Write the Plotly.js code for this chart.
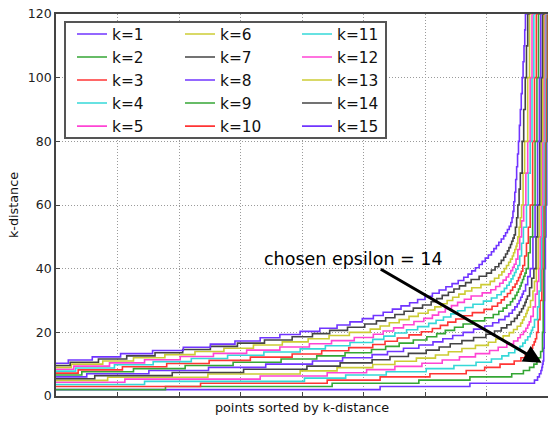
<!DOCTYPE html>
<html><head><meta charset="utf-8">
<script src="https://cdn.plot.ly/plotly-3.0.1.min.js"></script>
<style>html,body{margin:0;padding:0;background:#fff}#chart{width:548px;height:422px}</style>
</head><body><div id="chart"></div>
<script>
// ---- data: sorted k-distance curves (rank, k-distance) ----
const kLabels = ['k=1','k=2','k=3','k=4','k=5','k=6','k=7','k=8','k=9','k=10','k=11','k=12','k=13','k=14','k=15'];
const yTicks = [0, 20, 40, 60, 80, 100, 120];

const x_k1 = [0,527,673,778,783,786,788.5,790,791,792,793,793.8,794.3,794.6,795.8,796.8,798,798.9,799.5,801];
const y_k1 = [2,3,4,5,6,7,8,9,10,11,15,20,30,40,50,60,80,100,120,150];

const x_k2 = [0,178,449,590,673,741,760,770,777,782,785,788,791,792.2,793,794,795,796.6,798,798.7,800.3];
const y_k2 = [2,3,4,5,6,7,8,9,10,11,12,14,20,30,40,50,60,80,100,120,150];

const x_k3 = [0,235,441,527,608,667,697,722,745,756,763,768,772,775,777.5,779.5,781.5,784,787,790,791.7,793,795,796.8,798,799.5];
const y_k3 = [3,4,5,6,7,8,9,10,11,12,13,14,15,16,17,18,20,24,30,40,50,60,80,100,120,150];

const x_k4 = [0,144,404,471,537,602,647,683,708,725,736,746,754.5,759,763,767,771,773,775,778,783,785.5,788,789.7,791,793.4,795,796.3,798];
const y_k4 = [3.6,4.6,5.6,6.6,7.6,8.6,9.6,10.6,11.6,12.6,13.6,14.6,15.6,16.6,17.6,18.6,19.6,20.6,21.6,24,28,33,40,50,60,80,100,120,150];

const x_k5 = [0,112,332,441,505,551,595,628,656,682,705,719,733,744,751,755,760,764,767,769.5,772,776,779.5,782.5,785,787.3,789,791.4,793.4,794.6,796.5];
const y_k5 = [4.3,5.3,6.3,7.3,8.3,9.3,10.3,11.3,12.3,13.3,14.3,15.3,16.3,17.3,18.3,19.3,20.3,21.3,22.3,23.3,25,28,32,36,40,50,60,80,100,120,150];

const x_k6 = [0,84,247,397,457,515,551,586,617,638,660,682,703,715,727,737,744,750,755.5,758.5,761,764,766,768,771.5,775.5,778,781,784,786,789,791.4,793,795];
const y_k6 = [4.9,5.9,6.9,7.9,8.9,9.9,10.9,11.9,12.9,13.9,14.9,15.9,16.9,17.9,18.9,19.9,20.9,21.9,22.9,23.9,24.9,25.9,26.9,27.9,30,33,36,40,50,60,80,100,120,150];

const x_k7 = [0,63,189,305,408,462,514,543,573,602,623,641,660,679,699,713,724,733,740,745.5,750,753.5,757,760,762.5,764.5,766.5,770,773.5,777,780.5,783,786.5,789,791,793];
const y_k7 = [5.4,6.4,7.4,8.4,9.4,10.4,11.4,12.4,13.4,14.4,15.4,16.4,17.4,18.4,19.4,20.4,21.4,22.4,23.4,24.4,25.4,26.4,27.4,28.4,29.4,30.4,31.4,34,37,40,50,60,80,100,120,150];

const x_k8 = [0,50,151,248,341,417,466,514,539,565,590,613,629,645,662,679,697,710,720,730,736.5,742,746,750,753,755.5,758,760,763.5,767,771,775.5,779,783,786,788,790];
const y_k8 = [6,7,8,9,10,11,12,13,14,15,16,17,18,19,20,21,22,23,24,25,26,27,28,29,30,31,32,33,35,37.5,40,50,60,80,100,120,150];

const x_k9 = [0,42,126,210,288,366,424,470,513,536,558,581,603,619,633,648,662,677,697,711,720,727,733,739,742.5,746.5,749.5,752,754.5,756.5,758.5,760.5,762.5,764.5,768,771,775,779,782,784.5,786.5];
const y_k9 = [6.6,7.6,8.6,9.6,10.6,11.6,12.6,13.6,14.6,15.6,16.6,17.6,18.6,19.6,20.6,21.6,22.6,23.6,24.6,25.6,26.6,27.6,28.6,29.6,30.6,31.6,32.6,33.6,34.6,35.6,36.6,37.6,38.6,40,45,50,60,80,100,120,150];

const x_k10 = [0,36,108,180,249,316,384,432,476,515,535,555,574,594,612,625,637,650,663,677,696,709,718,724,729,734,739,742.5,746.5,749.5,752,754.5,756.5,759,762,765,768,771,775,778,781,783];
const y_k10 = [7.2,8.2,9.2,10.2,11.2,12.2,13.2,14.2,15.2,16.2,17.2,18.2,19.2,20.2,21.2,22.2,23.2,24.2,25.2,26.2,27.2,28.2,29.2,30.2,31.2,32.2,33.2,34.2,35.2,36.2,37.2,38.2,39.2,41,44,48,53,60,80,100,120,150];

const x_k11 = [0,32,95,158,220,279,338,397,438,478,515,533,551,570,588,606,618,630,642,653,665,678,695,708,717,724,729,733,737,740,743,745.5,748,751,754,757,760,765,768,771,774,777,779];
const y_k11 = [7.8,8.8,9.8,10.8,11.8,12.8,13.8,14.8,15.8,16.8,17.8,18.8,19.8,20.8,21.8,22.8,23.8,24.8,25.8,26.8,27.8,28.8,29.8,30.8,31.8,32.8,33.8,34.8,35.8,36.8,37.8,38.8,39.8,41,44,48,53,60,70,80,100,120,150];

const x_k12 = [0,29,87,144,202,256,310,364,412,448,485,516,532,549,565,582,598,612,622,633,643,653,664,675,693,707,715,721.5,727,732,736,739.5,742.5,745,748,751,754,757,760.5,764,767,771,774,776];
const y_k12 = [8.4,9.4,10.4,11.4,12.4,13.4,14.4,15.4,16.4,17.4,18.4,19.4,20.4,21.4,22.4,23.4,24.4,25.4,26.4,27.4,28.4,29.4,30.4,31.4,32.4,33.4,34.4,35.4,36.4,37.4,38.4,39.4,40.4,41.4,43,46,50,55,60,70,80,100,120,150];

const x_k13 = [0,25,76,126,177,226,273,321,368,410,444,477,511,527,542,558,574,589,605,616,626,636,645,655,665,676,691,706,713,720,725,729,732.5,736,739,742,744,746,748,749.5,751,753,755,757,759.5,762,767,770,772];
const y_k13 = [9,10,11,12,13,14,15,16,17,18,19,20,21,22,23,24,25,26,27,28,29,30,31,32,33,34,35,36,37,38,39,40,41,42,43,44,45,46,47,48,50,53,56,60,70,80,100,120,150];

const x_k14 = [0,23,69,115,161,206,251,295,339,384,417,445,474,502,521,536,551,566,581,596,610,619,628,638,647,656,666,675,688,700,708,714,720,724,728,731,734,736.5,739,741,743,745,747,749,751,753,755,758,760.5,763,765,767,769];
const y_k14 = [9.6,10.6,11.6,12.6,13.6,14.6,15.6,16.6,17.6,18.6,19.6,20.6,21.6,22.6,23.6,24.6,25.6,26.6,27.6,28.6,29.6,30.6,31.6,32.6,33.6,34.6,35.6,36.6,37.6,38.6,39.6,40.6,41.6,42.6,43.6,44.6,45.6,46.6,47.6,48.6,49.6,50.6,53,56,60,65,70,80,90,100,110,120,150];

const x_k15 = [0,20,59,105,157,207,251,291,332,364,397,429,457,478,498,516,532,547,561,575,588,600,612,623,634,644,654,663,670,676,682,688,693,698,703,708,712,716,720,724,728,731,734,737,739.5,741.5,743,744.5,746,747.5,749,750.5,752,753.5,755,756.5,758,759.5,761,762.2,763.3,765];
const y_k15 = [10.3,11.3,12.3,13.3,14.3,15.3,16.3,17.3,18.3,19.3,20.3,21.3,22.3,23.3,24.3,25.3,26.3,27.3,28.3,29.3,30.3,31.3,32.3,33.3,34.3,35.3,36.3,37.3,38.3,39.3,40.3,41.3,42.3,43.3,44.3,45.3,46.3,47.3,48.3,49.3,50.3,51.3,52.3,53.3,54.5,56,58,61,64,68,72,76,80,85,90,95,100,105,110,115,120,150];

// annotation (rank, k-distance)
const arrowTip = [789.8, 10.46];
const arrowTail = [525.7, 40.1];
const noteText = 'chosen epsilon = 14';

// ---- styling ----
const palette = ['#7034ff', '#34a634', '#ff3434', '#34d8d8', '#ff44d4', '#cccc34', '#444444'];
const xs = [x_k1,x_k2,x_k3,x_k4,x_k5,x_k6,x_k7,x_k8,x_k9,x_k10,x_k11,x_k12,x_k13,x_k14,x_k15];
const ys = [y_k1,y_k2,y_k3,y_k4,y_k5,y_k6,y_k7,y_k8,y_k9,y_k10,y_k11,y_k12,y_k13,y_k14,y_k15];
const legendIds = ['legend','legend2','legend3'];
const FONT = 'DejaVu Sans, Verdana, sans-serif';

const traces = kLabels.map((name, i) => ({
  type: 'scatter', mode: 'lines', name: name,
  x: xs[i], y: ys[i],
  line: {shape: 'hv', width: 1.6, color: palette[i % palette.length]},
  legend: legendIds[Math.floor(i / 5)],
  hoverinfo: 'skip'
}));

const W = 548, H = 422, ML = 56, MR = 0, MT = 14, MB = 26;
const PW = W - ML - MR, PH = H - MT - MB;
const px2paperX = p => (p - ML) / PW;
const px2paperY = p => (H - MB - p) / PH;

const legendBase = {
  xanchor: 'left', yanchor: 'top', y: px2paperY(17.5),
  bgcolor: 'rgba(0,0,0,0)', borderwidth: 0,
  font: {family: FONT, size: 15.4, color: '#111'},
  tracegroupgap: 0
};

const layout = {
  width: W, height: H,
  margin: {l: ML, r: MR, t: MT, b: MB, pad: 0},
  paper_bgcolor: '#fff', plot_bgcolor: '#fff',
  showlegend: true,
  xaxis: {
    range: [0, 800], dtick: 100, tick0: 0,
    showticklabels: false,
    ticks: 'inside', ticklen: 4, tickcolor: '#444',
    showgrid: true, gridcolor: '#9a9a9a', griddash: '1px,2px', gridwidth: 1,
    zeroline: false,
    showline: true, linecolor: '#444', linewidth: 1.8, mirror: true,
    automargin: false,
    title: {text: 'points sorted by k-distance', font: {family: FONT, size: 12.8, color: '#111'}, standoff: 6}
  },
  yaxis: {
    range: [0, 120], tickvals: yTicks, ticktext: yTicks.map(String),
    ticks: 'inside', ticklen: 4, tickcolor: '#444',
    tickfont: {family: FONT, size: 12.5, color: '#222'},
    showgrid: true, gridcolor: '#9a9a9a', griddash: '1px,2px', gridwidth: 1,
    zeroline: false,
    showline: true, linecolor: '#444', linewidth: 1.8, mirror: false,
    automargin: false,
    title: {text: 'k-distance', font: {family: FONT, size: 12.8, color: '#111'}, standoff: 6}
  },
  legend: Object.assign({}, legendBase, {x: px2paperX(72)}),
  legend2: Object.assign({}, legendBase, {x: px2paperX(180)}),
  legend3: Object.assign({}, legendBase, {x: px2paperX(297)}),
  shapes: [{
    type: 'rect', xref: 'paper', yref: 'paper', layer: 'above',
    x0: px2paperX(65), x1: px2paperX(386), y0: px2paperY(138), y1: px2paperY(22),
    line: {color: '#555', width: 2}, fillcolor: '#fff'
  }],
  annotations: [
    {x: arrowTip[0], y: arrowTip[1], ax: arrowTail[0], ay: arrowTail[1],
     xref: 'x', yref: 'y', axref: 'x', ayref: 'y', text: '',
     showarrow: true, arrowhead: 2, arrowsize: 1.2, arrowwidth: 3, arrowcolor: '#000',
     standoff: 0, startstandoff: 0},
    {x: 335, y: 43.0, xref: 'x', yref: 'y', text: noteText, showarrow: false,
     xanchor: 'left', yanchor: 'middle',
     font: {family: FONT, size: 17.5, color: '#000'}}
  ]
};

Plotly.newPlot('chart', traces, layout, {staticPlot: true, displayModeBar: false});
</script>
</body></html>
